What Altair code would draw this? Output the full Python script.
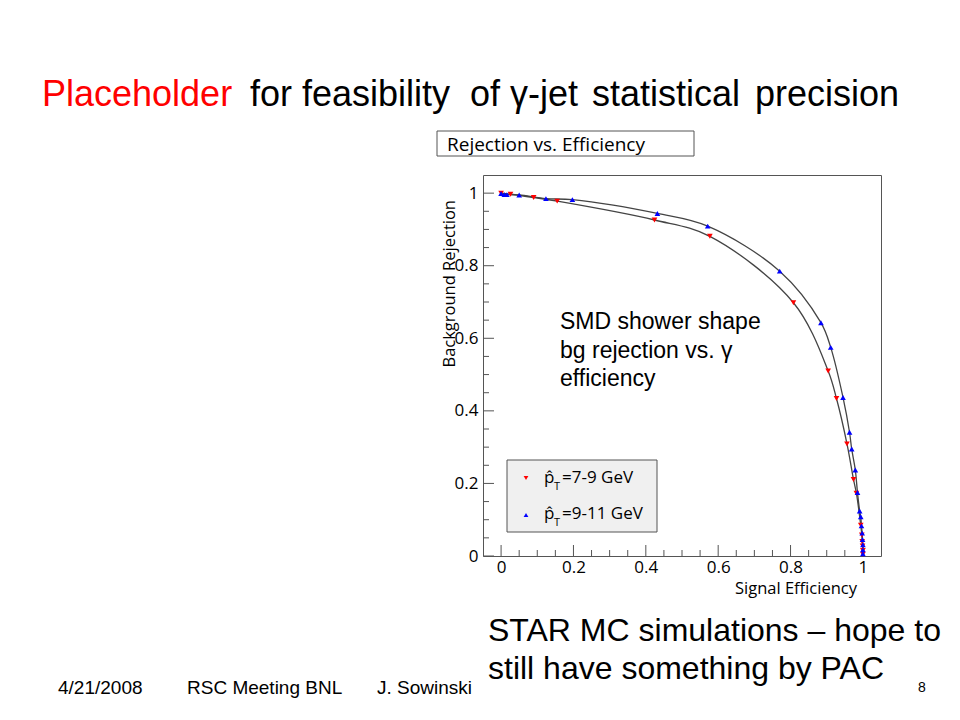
import altair as alt
import pandas as pd

# ---------------- data ----------------
red_eff = [0.0, 0.026, 0.09, 0.155, 0.424, 0.577, 0.808, 0.904, 0.927, 0.956,
           0.974, 0.982, 0.994, 0.997, 0.998, 0.999, 1.0, 1.0]
red_rej = [1.0, 0.997, 0.988, 0.978, 0.926, 0.881, 0.698, 0.510, 0.434, 0.309,
           0.211, 0.173, 0.085, 0.058, 0.040, 0.028, 0.015, 0.005]

blue_eff = [0.0, 0.009, 0.016, 0.05, 0.124, 0.197, 0.432, 0.571, 0.770, 0.884,
            0.911, 0.945, 0.963, 0.969, 0.979, 0.985, 0.991, 0.994, 0.996, 0.998,
            0.999, 1.0, 1.0, 1.0]
blue_rej = [0.999, 0.996, 0.996, 0.995, 0.985, 0.982, 0.944, 0.909, 0.785, 0.643,
            0.575, 0.437, 0.341, 0.295, 0.237, 0.175, 0.124, 0.108, 0.083, 0.063,
            0.045, 0.031, 0.017, 0.006]

series_names = ["7-9 GeV", "9-11 GeV"]

x_major = [0, 0.2, 0.4, 0.6, 0.8, 1.0]
x_minor = [0.05, 0.1, 0.15, 0.25, 0.3, 0.35, 0.45, 0.5, 0.55, 0.65, 0.7, 0.75,
           0.85, 0.9, 0.95]
y_major = [0, 0.2, 0.4, 0.6, 0.8, 1.0]
y_minor = [0.05, 0.1, 0.15, 0.25, 0.3, 0.35, 0.45, 0.5, 0.55, 0.65, 0.7, 0.75,
           0.85, 0.9, 0.95]

# ---------------- layout ----------------
W, H = 398, 381          # plot frame
X0, Y0 = 483, 175        # page position of the frame's top-left corner


def px(x):
    return x - X0


def py(y):
    return y - Y0


SANS = "Liberation Sans"
ROOTF = "Open Sans"
FRAME = "#555555"

df = pd.DataFrame({
    "eff": red_eff + blue_eff,
    "rej": red_rej + blue_rej,
    "series": [series_names[0]] * len(red_eff) + [series_names[1]] * len(blue_eff),
})

xs = alt.Scale(domain=[-0.05, 1.05], nice=False, zero=False)
ys = alt.Scale(domain=[0, 1.05], nice=False, zero=False)

xaxis = alt.Axis(values=x_major, format="~g", ticks=False, domain=False, grid=False,
                 title=None, labelFont=ROOTF, labelFontSize=17, labelColor="black",
                 labelPadding=3)
yaxis = alt.Axis(values=y_major, format="~g", ticks=False, domain=False, grid=False,
                 title=None, labelFont=ROOTF, labelFontSize=17, labelColor="black",
                 labelPadding=5)

X = alt.X("eff:Q", scale=xs, axis=xaxis)
Y = alt.Y("rej:Q", scale=ys, axis=yaxis)

curves = alt.Chart(df).mark_line(interpolate="catmull-rom", strokeWidth=1.3,
                                 color="#444444").encode(
    x=X, y=Y, detail="series:N",
    order=alt.Order("rej:Q", sort="descending"),
)

points = alt.Chart(df).mark_point(filled=True, size=32, opacity=1).encode(
    x=X, y=Y,
    shape=alt.Shape("series:N", scale=alt.Scale(domain=series_names,
                                                range=["triangle-down", "triangle-up"]),
                    legend=None),
    color=alt.Color("series:N", scale=alt.Scale(domain=series_names,
                                                range=["#ff0000", "#0000ff"]),
                    legend=None),
)

xt_major = alt.Chart(pd.DataFrame({"eff": x_major})).mark_rule(color=FRAME).encode(
    x=X, y=alt.value(H), y2=alt.value(H - 11))
xt_minor = alt.Chart(pd.DataFrame({"eff": x_minor})).mark_rule(color=FRAME).encode(
    x=X, y=alt.value(H), y2=alt.value(H - 6))
yt_major = alt.Chart(pd.DataFrame({"rej": y_major})).mark_rule(color=FRAME).encode(
    y=Y, x=alt.value(0), x2=alt.value(11))
yt_minor = alt.Chart(pd.DataFrame({"rej": y_minor})).mark_rule(color=FRAME).encode(
    y=Y, x=alt.value(0), x2=alt.value(6))

one = pd.DataFrame({"a": [0]})


def txt(text, x, y, size, font=SANS, color="black", align="left", **kw):
    return alt.Chart(one).mark_text(text=text, font=font, fontSize=size, color=color,
                                    align=align, baseline="alphabetic", **kw).encode(
        x=alt.value(px(x)), y=alt.value(py(y)))


def box(x1, x2, y1, y2, fill):
    return alt.Chart(one).mark_rect(fill=fill, stroke=FRAME, strokeWidth=1).encode(
        x=alt.value(px(x1)), x2=alt.value(px(x2)),
        y=alt.value(py(y1)), y2=alt.value(py(y2)))


def sym(shape, color, x, y):
    return alt.Chart(one).mark_point(shape=shape, filled=True, size=22, color=color,
                                     opacity=1).encode(
        x=alt.value(px(x)), y=alt.value(py(y)))


layers = [
    yt_minor, yt_major, xt_minor, xt_major,
    curves, points,
    # slide title
    txt("Placeholder", 42, 106, 36, color="#ff0000"),
    txt("for feasibility", 250, 106, 36),
    txt("of γ-jet", 470, 106, 36),
    txt("statistical", 592, 106, 36),
    txt("precision", 755, 106, 36),
    # histogram title box
    box(437, 694, 131, 156, "white"),
    txt("Rejection vs. Efficiency", 447, 151, 19, font=ROOTF),
    # axis titles
    txt("Background Rejection", 455, 200, 16.5, font=ROOTF, align="right", angle=270),
    txt("Signal Efficiency", 857, 594, 16.5, font=ROOTF, align="right"),
    # annotation
    txt(["SMD shower shape", "bg rejection vs. γ", "efficiency"], 560, 329, 23,
        lineHeight=28.5),
    # legend
    box(507, 657, 460, 532, "#f0f0f0"),
    sym("triangle-down", "#ff0000", 526, 478),
    sym("triangle-up", "#0000ff", 526, 515),
    txt("p̂", 544, 483, 17, font=ROOTF),
    txt("T", 554, 490, 11, font=ROOTF),
    txt("=7-9 GeV", 562, 483, 17, font=ROOTF),
    txt("p̂", 544, 519, 17, font=ROOTF),
    txt("T", 554, 526, 11, font=ROOTF),
    txt("=9-11 GeV", 562, 519, 17, font=ROOTF),
    # bottom notes
    txt(["STAR MC simulations – hope to", "still have something by PAC"], 488, 641, 32,
        lineHeight=38),
    txt("4/21/2008", 58, 694, 19),
    txt("RSC Meeting BNL", 187, 694, 19),
    txt("J. Sowinski", 377, 694, 19),
    txt("8", 918, 692, 14),
]

chart = alt.layer(*layers).properties(
    width=W, height=H,
    autosize=alt.AutoSizeParams(type="none"),
    padding={"left": X0 - 8, "top": Y0 - 8, "right": 944 - (X0 - 8) - W,
             "bottom": 704 - (Y0 - 8) - H},
    background="white",
).configure_view(stroke=FRAME, strokeWidth=1)

chart.save("out.html", embed_options={"renderer": "svg", "actions": False})
